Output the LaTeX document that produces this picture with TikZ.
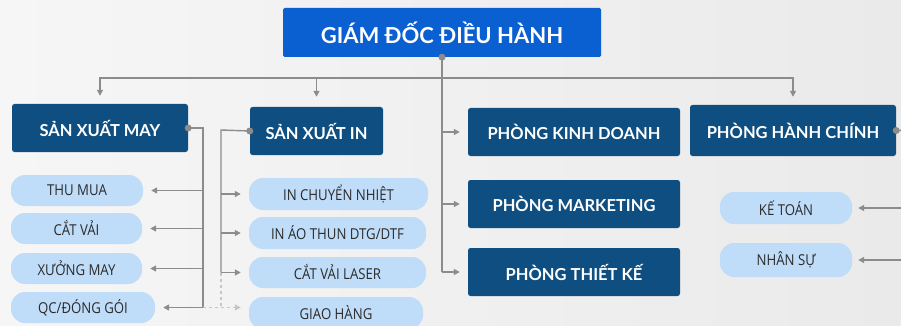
\documentclass[tikz,border=0pt]{standalone}
\usepackage{fontspec}
\setmainfont{Lato}
\newfontfamily\lightfont[FakeStretch=0.88]{Open Sans}
\usetikzlibrary{arrows.meta,calc}
\definecolor{bgA}{HTML}{F6F6F6}
\definecolor{bgB}{HTML}{EAEAEA}
\definecolor{topblue}{HTML}{0A5FD1}
\definecolor{darkblue}{HTML}{0F4E80}
\definecolor{lightblue}{HTML}{BFDCF8}
\definecolor{conngray}{HTML}{8C8C8C}
\definecolor{dashgray}{HTML}{C6C6C6}
\definecolor{txt}{HTML}{2B2B2B}
\begin{document}
\begin{tikzpicture}[x=1pt,y=-1pt,
 topbox/.style={fill=topblue, text=white, font=\fontsize{22}{22}\selectfont\bfseries, minimum width=318pt, minimum height=49pt, rounded corners=1.5pt, inner sep=0pt},
 deptbox/.style={fill=darkblue, text=white, font=\fontsize{16.5}{16.5}\selectfont\bfseries, minimum height=48pt, rounded corners=2.5pt, inner sep=0pt},
 subbox/.style={fill=lightblue, text=txt, font=\lightfont\fontsize{15}{15}\selectfont, minimum height=31pt, rounded corners=14pt, inner sep=0pt},
 conn/.style={draw=conngray, line width=1.4pt},
 arr/.style={conn, -{Triangle[length=6pt,width=6pt]}},
 dashedarr/.style={draw=dashgray, line width=1.2pt, dashed, -{Triangle[length=6pt,width=6pt]}},
 dot/.style={circle, fill=conngray, inner sep=0pt, minimum size=7pt},
]
\clip (0,0) rectangle (901,326);
\shade[left color=bgA, right color=bgB] (0,0) rectangle (901,326);

\node[topbox] (ceo) at (442,32.5) {GIÁM ĐỐC ĐIỀU HÀNH};
\node[deptbox, minimum width=176pt] (sxm) at (100,128) {SẢN XUẤT MAY};
\node[deptbox, minimum width=133pt] (sxi) at (316.5,131) {SẢN XUẤT IN};
\node[deptbox, minimum width=212pt] (pkd) at (574,132) {PHÒNG KINH DOANH};
\node[deptbox, minimum width=206pt, minimum height=51pt] (phc) at (793,130.5) {PHÒNG HÀNH CHÍNH};
\node[deptbox, minimum width=212pt] (pmk) at (574,204) {PHÒNG MARKETING};
\node[deptbox, minimum width=212pt] (ptk) at (574,272) {PHÒNG THIẾT KẾ};

\node[subbox, minimum width=132pt] (thumua) at (77,190.5) {THU MUA};
\node[subbox, minimum width=131pt] (catvai) at (76.5,228.5) {CẮT VẢI};
\node[subbox, minimum width=131pt] (xuong) at (76.5,268.5) {XƯỞNG MAY};
\node[subbox, minimum width=144pt] (qc) at (83,307.5) {QC/ĐÓNG GÓI};
\node[subbox, minimum width=179pt, minimum height=32pt] (inchuyen) at (338.5,194) {IN CHUYỂN NHIỆT};
\node[subbox, minimum width=177pt, minimum height=32pt] (inao) at (337.5,233) {IN ÁO THUN DTG/DTF};
\node[subbox, minimum width=177pt] (laser) at (337.5,272.5) {CẮT VẢI LASER};
\node[subbox, minimum width=174pt, minimum height=32pt] (giao) at (336,313) {GIAO HÀNG};
\node[subbox, minimum width=132pt, minimum height=32pt] (ketoan) at (786,208) {KẾ TOÁN};
\node[subbox, minimum width=132pt, minimum height=34pt] (nhansu) at (786,260) {NHÂN SỰ};

% CEO connectors
\coordinate (bus) at (442,78);
\draw[conn] (ceo.south) -- (ceo.south |- ptk);
\draw[arr, shorten >=8pt] (bus) -| (sxm.north);
\draw[arr, shorten >=10pt] (sxi.north |- bus) -- (sxi.north);
\draw[arr, shorten >=8pt] (bus) -| (phc.north);
\draw[arr, shorten >=8pt] (ceo.south |- pkd) -- (pkd.west);
\draw[arr, shorten >=8pt] (ceo.south |- pmk) -- (pmk.west);
\draw[arr, shorten >=8pt] (ceo.south |- ptk) -- (ptk.west);

% San xuat may
\coordinate (mayX) at (203,128);
\draw[conn] (sxm.east) -- (mayX) -- (mayX |- qc);
\draw[arr, shorten >=8pt] (mayX |- thumua) -- (thumua.east);
\draw[arr, shorten >=8pt] (mayX |- catvai) -- (catvai.east);
\draw[arr, shorten >=8pt] (mayX |- xuong) -- (xuong.east);
\draw[arr, shorten >=8pt] (mayX |- qc) -- (qc.east);

% San xuat in
\coordinate (inX) at (221,130);
\draw[conn] (sxi.west) -- (inX) -- (inX |- laser);
\draw[arr, shorten >=8pt] (inX |- inchuyen) -- (inchuyen.west);
\draw[arr, shorten >=8pt] (inX |- inao) -- (inao.west);
\draw[arr, shorten >=8pt] (inX |- laser) -- (laser.west);

% dashed link to giao hang
\draw[draw=dashgray, line width=1.2pt, dashed] (inX |- laser) -- (inX |- qc);
\draw[dashedarr, shorten >=8pt] (mayX |- qc) -- (qc -| giao.west);

% Phong hanh chinh
\coordinate (hcX) at (910,130);
\draw[conn] (phc.east) -- (hcX) -- (hcX |- nhansu);
\draw[arr, shorten >=6pt] (hcX |- ketoan) -- (ketoan.east);
\draw[arr, shorten >=6pt] (hcX |- nhansu) -- (nhansu.east);

% dots
\node[dot] at (ceo.south) {};
\node[dot] at (sxm.east) {};
\node[dot] at (sxi.west) {};
\node[dot] at (phc.east) {};
\end{tikzpicture}
\end{document}
